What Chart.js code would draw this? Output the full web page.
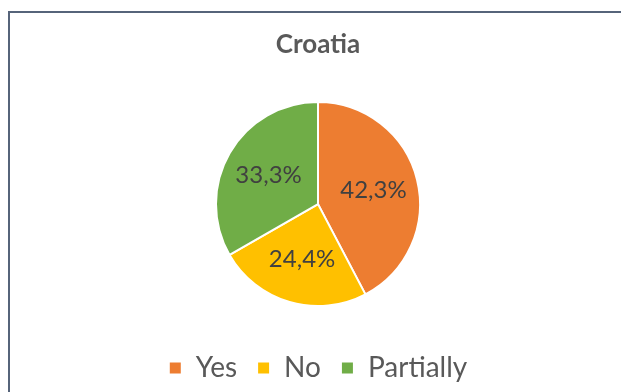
<!DOCTYPE html>
<html>
<head>
<meta charset="utf-8">
<script src="https://cdn.jsdelivr.net/npm/chart.js@4.4.1/dist/chart.umd.min.js"></script>
<style>
    html, body { margin: 0; padding: 0; background: #fff; overflow: hidden; }
    #wrap { position: relative; width: 621px; height: 392px; }
    #frame {
        position: absolute; left: 8px; top: 11px; width: 700px; height: 500px;
        border: 2px solid #56647a; box-sizing: border-box;
    }
    canvas { position: absolute; left: 0; top: 0; }
</style>
</head>
<body>
<div id="wrap">
    <div id="frame"></div>
    <canvas id="pieChart" width="621" height="392"></canvas>
</div>
<script>
// ==================== DATA ====================
const chartTitle = 'Croatia';
const categories = ['Yes', 'No', 'Partially'];
const shares = [42.3, 24.4, 33.3];
const sliceColors = ['#ED7D31', '#FFC000', '#70AD47'];

const FONT = 'Lato, "Open Sans", sans-serif';

// ==================== SLICE LABELS ====================
const sliceLabels = {
    id: 'sliceLabels',
    afterDatasetsDraw(chart) {
        const ctx = chart.ctx;
        const meta = chart.getDatasetMeta(0);
        ctx.save();
        ctx.font = '24px ' + FONT;
        ctx.fillStyle = '#404040';
        ctx.textAlign = 'center';
        ctx.textBaseline = 'middle';
        meta.data.forEach((arc, i) => {
            const p = arc.getProps(['x', 'y', 'startAngle', 'endAngle', 'outerRadius'], true);
            const mid = (p.startAngle + p.endAngle) / 2;
            const r = p.outerRadius * 0.56;
            const text = shares[i].toFixed(1).replace('.', ',') + '%';
            ctx.fillText(text, p.x + Math.cos(mid) * r, p.y + Math.sin(mid) * r);
        });
        ctx.restore();
    }
};

// ==================== CHART ====================
new Chart(document.getElementById('pieChart').getContext('2d'), {
    type: 'pie',
    data: {
        labels: categories,
        datasets: [{
            data: shares,
            backgroundColor: sliceColors,
            borderColor: '#ffffff',
            borderWidth: 2,
            hoverOffset: 0,
            radius: 102
        }]
    },
    options: {
        responsive: false,
        animation: false,
        devicePixelRatio: 1,
        layout: { padding: { left: 15, right: 0, top: 0, bottom: 0 } },
        plugins: {
            title: {
                display: true,
                text: chartTitle,
                color: '#595959',
                font: { family: FONT, size: 26, weight: 'bold', lineHeight: 1.2 },
                padding: { top: 29, bottom: 14 }
            },
            legend: {
                display: true,
                position: 'bottom',
                labels: {
                    color: '#595959',
                    font: { family: FONT, size: 28 },
                    boxWidth: 13,
                    boxHeight: 13,
                    padding: 20
                }
            },
            tooltip: { enabled: false }
        }
    },
    plugins: [sliceLabels]
});
</script>
</body>
</html>
